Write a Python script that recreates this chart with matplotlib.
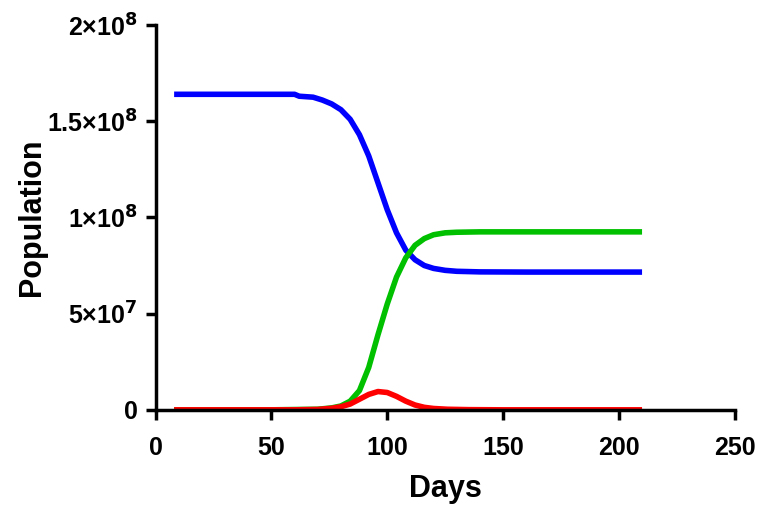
import matplotlib.pyplot as plt
from matplotlib.ticker import FixedLocator, FixedFormatter

plt.rcParams['font.family'] = ['Liberation Sans', 'DejaVu Sans']
plt.rcParams['font.weight'] = 'bold'
plt.rcParams['mathtext.default'] = 'bf'

# values (population)
days_s = [8, 30, 60, 62, 68, 72, 76, 80, 84, 88, 92, 96, 100, 104, 108, 112, 116, 120, 125, 130, 140, 160, 180, 210]
susc = [164e6, 164e6, 164e6, 163e6, 162.5e6, 161e6, 159e6, 156e6, 151e6, 143e6, 132e6, 118e6, 104e6, 92e6, 83e6, 78e6, 75e6, 73.5e6, 72.5e6, 72e6, 71.7e6, 71.6e6, 71.6e6, 71.6e6]
days_r = [8, 50, 70, 76, 80, 84, 88, 92, 96, 100, 104, 108, 112, 116, 120, 125, 130, 140, 160, 210]
recov = [0, 0, 0.3e6, 1e6, 2e6, 4.5e6, 10e6, 22e6, 39e6, 55e6, 69e6, 79e6, 85.5e6, 89e6, 91e6, 92e6, 92.3e6, 92.5e6, 92.5e6, 92.5e6]
days_i = [8, 60, 70, 76, 80, 84, 88, 92, 96, 100, 104, 108, 112, 116, 120, 126, 135, 150, 210]
infect = [0, 0, 0.2e6, 0.8e6, 1.6e6, 3e6, 5.5e6, 8e6, 9.5e6, 9e6, 7e6, 4.5e6, 2.5e6, 1.3e6, 0.7e6, 0.3e6, 0.1e6, 0, 0]

fig, ax = plt.subplots(figsize=(7.59, 5.11), dpi=100)
kw = dict(lw=4, solid_joinstyle='round', solid_capstyle='butt')
ax.plot(days_s, susc, color='#0000ff', **kw)
ax.plot(days_r, recov, color='#00c000', **kw)
ax.plot(days_i, infect, color='#ff0000', **kw)

ax.set_xlim(0, 250)
ax.set_ylim(0, 2e8)
ax.set_xticks([0, 50, 100, 150, 200, 250])
ax.yaxis.set_major_locator(FixedLocator([0, 5e7, 1e8, 1.5e8, 2e8]))
ax.yaxis.set_major_formatter(FixedFormatter(['0', r'5×10$^7$', r'1×10$^8$', r'1.5×10$^8$', r'2×10$^8$']))
ax.set_xlabel('Days', fontsize=22, fontweight='bold', labelpad=10)
ax.set_ylabel('Population', fontsize=22, fontweight='bold', labelpad=0)
ax.tick_params(labelsize=18, width=2.5, length=7)
ax.tick_params(axis='x', pad=12)
ax.tick_params(axis='y', pad=6)
for s in ['top', 'right']:
    ax.spines[s].set_visible(False)
for s in ['left', 'bottom']:
    ax.spines[s].set_linewidth(2.5)
plt.subplots_adjust(left=0.205, right=0.968, top=0.951, bottom=0.198)
plt.savefig('out.png')
